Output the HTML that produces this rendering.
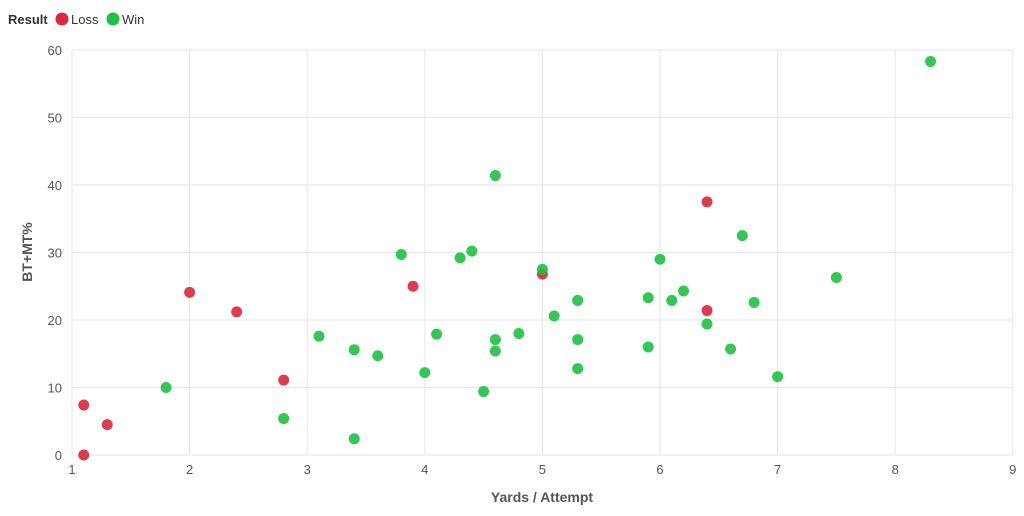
<!DOCTYPE html>
<html><head><meta charset="utf-8"><style>
body{margin:0;background:#fff;font-family:"Liberation Sans",sans-serif;}
</style></head><body>
<svg id="c" width="1024" height="516" style="display:block">
<g>
<text x="8" y="24" font-size="13" font-weight="bold" fill="#333">Result</text>
<circle cx="62" cy="19" r="6.5" fill="#d7283c"/>
<text x="71" y="24" font-size="13" fill="#333">Loss</text>
<circle cx="113" cy="19" r="6.5" fill="#1fc142"/>
<text x="122" y="24" font-size="13" fill="#333">Win</text>
</g>
<g id="grid"></g><g id="pts"></g>
<text x="542" y="502" font-size="14" font-weight="bold" fill="#555" text-anchor="middle">Yards / Attempt</text>
<text transform="translate(32,252) rotate(-90)" font-size="14" font-weight="bold" fill="#555" text-anchor="middle">BT+MT%</text>
</svg>
<script>
const xTicks=[1,2,3,4,5,6,7,8,9];
const yTicks=[0,10,20,30,40,50,60];
const lossX=[1.1,1.1,1.3,2,2.4,2.8,3.9,5,6.4,6.4];
const lossY=[7.4,0,4.5,24.1,21.2,11.1,25,26.8,37.5,21.4];
const winX=[1.8,2.8,3.1,3.4,3.4,3.6,3.8,4,4.1,4.3,4.4,4.5,4.6,4.6,4.6,4.8,5,5.1,5.3,5.3,5.3,5.9,5.9,6,6.1,6.2,6.4,6.6,6.7,6.8,7,7.5,8.3];
const winY=[10,5.4,17.6,15.6,2.4,14.7,29.7,12.2,17.9,29.2,30.2,9.4,41.4,17.1,15.4,18,27.5,20.6,22.9,17.1,12.8,23.3,16,29,22.9,24.3,19.4,15.7,32.5,22.6,11.6,26.3,58.3];
const X=v=>72+(v-1)*117.6, Y=v=>455-v*6.75;
const NS="http://www.w3.org/2000/svg";
const g=document.getElementById('grid'),p=document.getElementById('pts');
function mk(tag,a,par,txt){const e=document.createElementNS(NS,tag);for(const k in a)e.setAttribute(k,a[k]);if(txt!==undefined)e.textContent=txt;par.appendChild(e);return e;}
xTicks.forEach(t=>{
 const l=mk('line',{x1:X(t),x2:X(t),y1:50,y2:455,stroke:'#e6e6e6'},g);
 
 
 const s=mk('text',{x:X(t),y:474,'font-size':13,fill:'#555','text-anchor':'middle'},g,t);
 
 
});
yTicks.forEach(t=>{
 const l=mk('line',{x1:72,x2:1013,y1:Y(t),y2:Y(t),stroke:'#e6e6e6'},g);
 
 
 const s=mk('text',{x:62,y:Y(t)+5,'font-size':13,fill:'#555','text-anchor':'end'},g,t);
 
 
});
function draw(xs,ys,col,name){xs.forEach((x,i)=>{
 const c=mk('circle',{cx:X(x),cy:Y(ys[i]),r:5.5,fill:col,'fill-opacity':0.9},p);
 
 
});}
draw(lossX,lossY,'#d7283c','point-loss');
draw(winX,winY,'#1fc142','point-win');
</script>
</body></html>
